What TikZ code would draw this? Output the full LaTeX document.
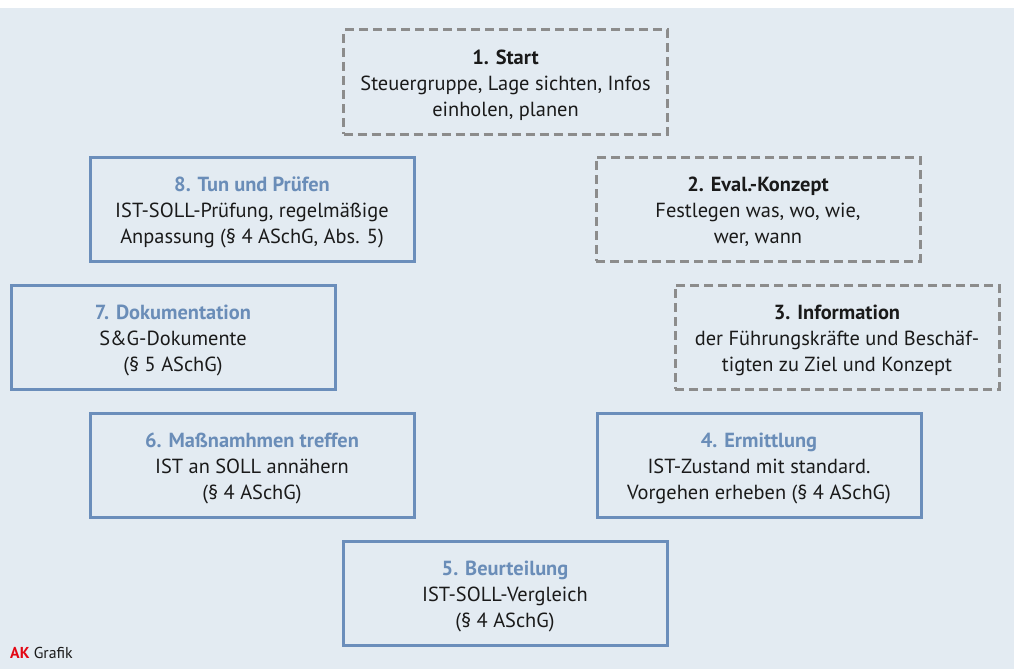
\documentclass[tikz,border=0pt]{standalone}
\usepackage{fontspec}
\setmainfont{PT Sans}
\definecolor{bgc}{HTML}{E3EBF2}
\definecolor{bblue}{HTML}{6B8EBB}
\definecolor{tblue}{HTML}{6A8DB8}
\definecolor{dgray}{HTML}{8C8C8C}
\definecolor{txt}{HTML}{1A1A1A}
\definecolor{akred}{HTML}{E30613}
\tikzset{
  box/.style={minimum width=324pt, minimum height=104pt, align=center, inner sep=0pt,
    font=\fontsize{20.4}{26}\selectfont, text=txt},
  dbox/.style={box, draw=dgray, line width=3pt, dash pattern=on 9pt off 5pt},
  bbox/.style={box, draw=bblue, line width=3pt},
  lbl/.style={align=center, inner sep=0pt, font=\fontsize{20.4}{26}\selectfont, text=txt},
}
\newcommand{\btitle}[1]{\textbf{\textcolor{tblue}{#1}}}
\newcommand{\ktitle}[1]{\textbf{#1}}
\begin{document}
\begin{tikzpicture}[x=1pt,y=-1pt]
\useasboundingbox (0,0) rectangle (1014,669);
\fill[white] (0,0) rectangle (1014,8);
\fill[bgc] (0,8) rectangle (1014,669);
\node[dbox] (n1) at (505.5,82) {};
\node[lbl] (t1) at ([yshift=-3pt]n1.center) {\ktitle{1. Start}\\Steuergruppe, Lage sichten, Infos\\einholen, planen};
\node[dbox] (n2) at (758,209) {};
\node[lbl] (t2) at ([yshift=-3pt]n2.center) {\ktitle{2. Eval.-Konzept}\\Festlegen was, wo, wie,\\wer, wann};
\node[dbox] (n3) at (837,337) {};
\node[lbl] (t3) at ([yshift=-3pt]n3.center) {\ktitle{3. Information}\\der Führungskräfte und Beschäf-\\tigten zu Ziel und Konzept};
\node[bbox] (n4) at (759,465) {};
\node[lbl] (t4) at ([yshift=-3pt]n4.center) {\btitle{4. Ermittlung}\\IST-Zustand mit standard.\\Vorgehen erheben (§ 4 ASchG)};
\node[bbox] (n5) at (505,593) {};
\node[lbl] (t5) at ([yshift=-3pt]n5.center) {\btitle{5. Beurteilung}\\IST-SOLL-Vergleich\\(§ 4 ASchG)};
\node[bbox] (n6) at (252,465) {};
\node[lbl] (t6) at ([yshift=-3pt]n6.center) {\btitle{6. Maßnamhmen treffen}\\IST an SOLL annähern\\(§ 4 ASchG)};
\node[bbox] (n7) at (173,337) {};
\node[lbl] (t7) at ([yshift=-3pt]n7.center) {\btitle{7. Dokumentation}\\S\&G-Dokumente\\(§ 5 ASchG)};
\node[bbox] (n8) at (252,209) {};
\node[lbl] (t8) at ([yshift=-3pt]n8.center) {\btitle{8. Tun und Prüfen}\\IST-SOLL-Prüfung, regelmäßige\\Anpassung (§ 4 ASchG, Abs. 5)};
\node[anchor=base west, inner sep=0pt, font=\fontsize{15.8}{18}\selectfont, text=txt] (ak) at (10,658) {\textbf{\textcolor{akred}{AK}} Grafik};
\end{tikzpicture}
\end{document}
